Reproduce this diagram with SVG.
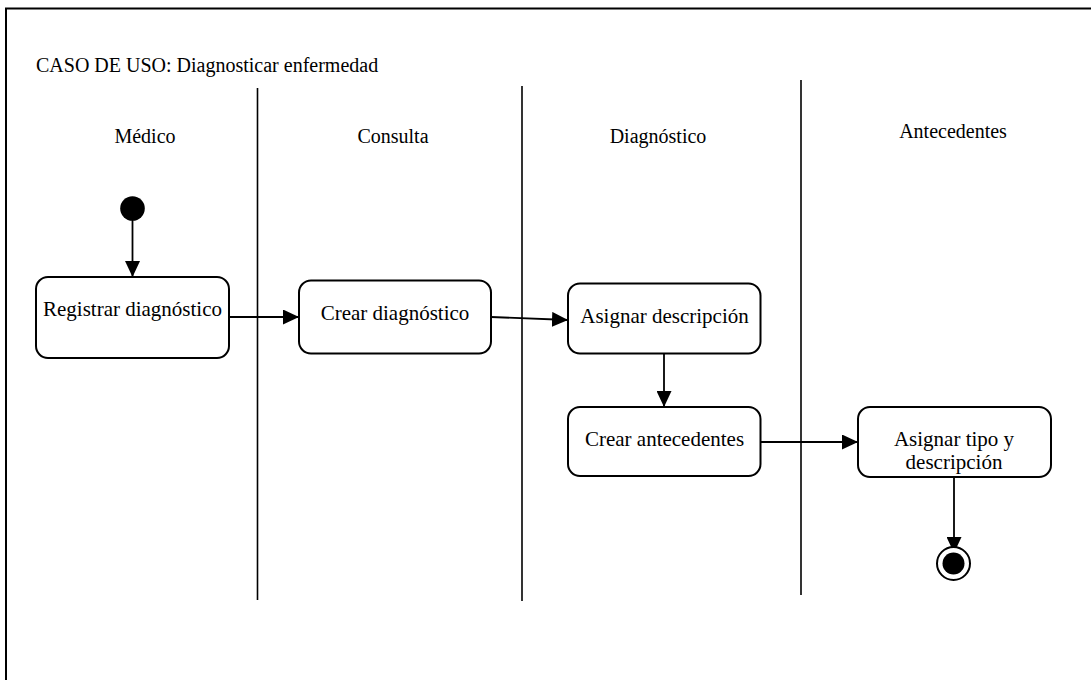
<svg xmlns="http://www.w3.org/2000/svg" width="1091" height="680" viewBox="0 0 1091 680">
  <style>
    .frame { fill: none; stroke: #000; stroke-width: 2; }
    .lane { stroke: #000; stroke-width: 1.6; }
    .box { fill: #fff; stroke: #000; stroke-width: 2; }
    .edge { fill: none; stroke: #000; stroke-width: 1.8; }
    .title { font-family: "Liberation Serif", "Times New Roman", serif; font-size: 20px; fill: #000; }
    .lbl { font-family: "Liberation Serif", "Times New Roman", serif; font-size: 20px; fill: #000; text-anchor: middle; }
    .txt { font-family: "Liberation Serif", "Times New Roman", serif; font-size: 21px; fill: #000; text-anchor: middle; }
  </style>
  <defs>
    <marker id="arrow" markerUnits="userSpaceOnUse" markerWidth="17" markerHeight="15" refX="16" refY="7.5" orient="auto">
      <path d="M0,0 L16,7.5 L0,15 z" fill="#000"/>
    </marker>
  </defs>

  <rect width="1091" height="680" fill="#fff"/>

  <!-- outer frame: top and left edges only -->
  <path class="frame" d="M6,680 L6,8.5 L1091,8.5"/>

  <text class="title" x="36" y="72">CASO DE USO: Diagnosticar enfermedad</text>

  <!-- swimlane dividers -->
  <g id="lanes">
    <line class="lane" x1="257.5" y1="88" x2="257.5" y2="600"/>
    <line class="lane" x1="522" y1="86" x2="522" y2="601"/>
    <line class="lane" x1="801" y1="80" x2="801" y2="595"/>
  </g>

  <!-- swimlane headers -->
  <g id="lane-labels">
    <text class="lbl" x="145" y="143">Médico</text>
    <text class="lbl" x="393" y="143">Consulta</text>
    <text class="lbl" x="658" y="143">Diagnóstico</text>
    <text class="lbl" x="953" y="138">Antecedentes</text>
  </g>

  <!-- connectors -->
  <g id="connectors">
    <line class="edge" x1="132.5" y1="219" x2="132.5" y2="277" marker-end="url(#arrow)"/>
    <line class="edge" x1="229" y1="317" x2="299" y2="317" marker-end="url(#arrow)"/>
    <line class="edge" x1="491" y1="317" x2="568" y2="320" marker-end="url(#arrow)"/>
    <line class="edge" x1="664" y1="353" x2="664" y2="407" marker-end="url(#arrow)"/>
    <line class="edge" x1="761" y1="442" x2="858" y2="442" marker-end="url(#arrow)"/>
    <line class="edge" x1="954" y1="477" x2="954" y2="553" marker-end="url(#arrow)"/>
  </g>

  <g id="start">
    <circle cx="132.5" cy="208.5" r="12.3" fill="#000"/>
  </g>

  <g id="registrar-diagnostico">
    <rect class="box" x="36" y="277" width="193" height="81" rx="12" ry="12"/>
    <text class="txt" x="132.5" y="316">Registrar diagnóstico</text>
  </g>

  <g id="crear-diagnostico">
    <rect class="box" x="299" y="280.5" width="192" height="73" rx="12" ry="12"/>
    <text class="txt" x="395" y="320">Crear diagnóstico</text>
  </g>

  <g id="asignar-descripcion">
    <rect class="box" x="568" y="283.5" width="192.5" height="70" rx="12" ry="12"/>
    <text class="txt" x="664.5" y="323">Asignar descripción</text>
  </g>

  <g id="crear-antecedentes">
    <rect class="box" x="568" y="407" width="192.5" height="69" rx="12" ry="12"/>
    <text class="txt" x="664.5" y="446">Crear antecedentes</text>
  </g>

  <g id="asignar-tipo">
    <rect class="box" x="858" y="407" width="193" height="70" rx="12" ry="12"/>
    <text class="txt" x="954" y="446">Asignar tipo y</text>
    <text class="txt" x="954" y="469">descripción</text>
  </g>

  <g id="end">
    <circle cx="953.5" cy="563.5" r="16.5" fill="#fff" stroke="#000" stroke-width="2"/>
    <circle cx="953.5" cy="563.5" r="11" fill="#000"/>
  </g>
</svg>
